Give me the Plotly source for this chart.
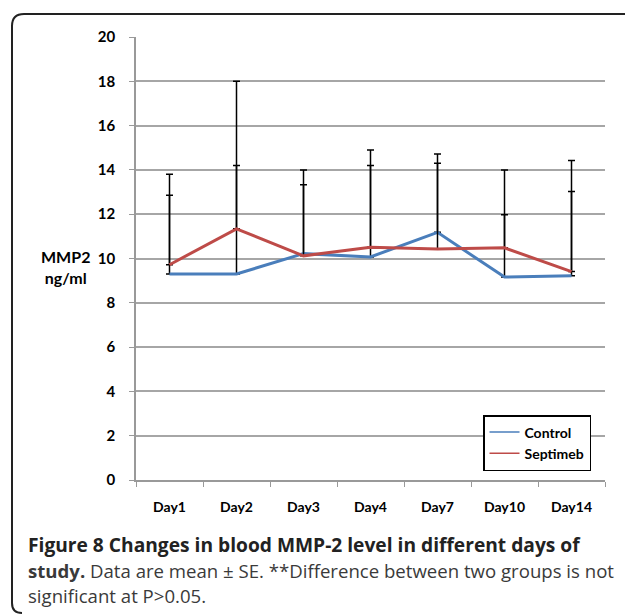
import plotly.graph_objects as go

days = ["Day1", "Day2", "Day3", "Day4", "Day7", "Day10", "Day14"]
control = [9.3, 9.3, 10.22, 10.07, 11.18, 9.16, 9.22]
control_se = [4.5, 8.7, 3.78, 4.83, 3.54, 4.84, 5.2]
septimeb = [9.72, 11.34, 10.12, 10.51, 10.43, 10.48, 9.41]
septimeb_se = [3.13, 2.86, 3.21, 3.69, 3.87, 1.49, 3.62]
y_ticks = list(range(0, 21, 2))

W, H = 625, 616
L, R, T, B = 136, 20, 37, 136
pw, ph = W - L - R, H - T - B

def px(x):
    return (x - L) / pw

def py(y):
    return (H - B - y) / ph

BLUE, RED = "#4a7ebb", "#be4b48"

fig = go.Figure()
for name, vals, se, col in [("Control", control, control_se, BLUE),
                            ("Septimeb", septimeb, septimeb_se, RED)]:
    fig.add_trace(go.Scatter(
        x=days, y=vals, name=name, mode="lines", showlegend=False,
        line=dict(color=col, width=3),
        error_y=dict(type="data", array=se, symmetric=False,
                     arrayminus=[0] * len(days), color="black", thickness=1.5, width=3.5),
    ))
# legend entries with thin lines (as in the reference legend)
for name, col in [("Control", BLUE), ("Septimeb", RED)]:
    fig.add_trace(go.Scatter(x=[None], y=[None], name=name, mode="lines",
                             line=dict(color=col, width=1.5), hoverinfo="skip"))

font_bold = "Lato"
fig.update_layout(
    width=W, height=H,
    margin=dict(l=L, r=R, t=T, b=B),
    paper_bgcolor="white", plot_bgcolor="white",
    font=dict(family=font_bold, color="black"),
    showlegend=True,
    legend=dict(
        x=px(483), y=py(415), xanchor="left", yanchor="top",
        bgcolor="white", bordercolor="black", borderwidth=1.5,
        font=dict(family=font_bold, size=14, color="black", weight="bold"),
        tracegroupgap=0, itemwidth=30,
    ),
    xaxis=dict(
        type="category", showgrid=False, showline=True, linecolor="#999999", linewidth=1.5,
        ticks="outside", tickson="boundaries", ticklen=5, tickcolor="#999999",
        ticklabelstandoff=13,
        tickfont=dict(family=font_bold, size=14, weight="bold"),
        range=[-0.5, 6.5],
    ),
    yaxis=dict(
        range=[0, 20], tickvals=y_ticks, showgrid=True, gridcolor="#a6a6a6", gridwidth=1.5,
        showline=True, linecolor="#999999", linewidth=1.5,
        ticks="outside", ticklen=5, tickcolor="#999999",
        ticklabelstandoff=11, zeroline=False,
        tickfont=dict(family=font_bold, size=15, weight="bold"),
    ),
)

fig.add_annotation(
    xref="paper", yref="paper", x=px(65), y=py(267), xanchor="center", yanchor="middle",
    text="<b>MMP2<br>ng/ml</b>", showarrow=False, align="center",
    font=dict(family=font_bold, size=16, color="black"),
)

cap_font = "Open Sans"
fig.add_annotation(
    xref="paper", yref="paper", x=px(26), y=py(544), xanchor="left", yanchor="middle",
    text="<b>Figure 8 Changes in blood MMP-2 level in different days of</b>",
    showarrow=False, font=dict(family=cap_font, size=19.2, color="#222222"),
)
fig.add_annotation(
    xref="paper", yref="paper", x=px(26), y=py(570), xanchor="left", yanchor="middle",
    text="<b>study.</b> Data are mean ± SE. **Difference between two groups is not",
    showarrow=False, font=dict(family=cap_font, size=18.6, color="#3a3a3a"),
)
fig.add_annotation(
    xref="paper", yref="paper", x=px(26), y=py(595), xanchor="left", yanchor="middle",
    text="significant at P>0.05.",
    showarrow=False, font=dict(family=cap_font, size=18.6, color="#3a3a3a"),
)

# outer rounded frame
r = 12
path = (f"M {px(22)},{py(613)} Q {px(12)},{py(613)} {px(12)},{py(603)} "
        f"L {px(12)},{py(14 + r)} "
        f"Q {px(12)},{py(14)} {px(12 + r)},{py(14)} L {px(640)},{py(14)}")
fig.add_shape(type="path", xref="paper", yref="paper", path=path,
              line=dict(color="#222222", width=2))

fig.write_html(
    "out.html",
    config={"displayModeBar": False},
    post_script="document.body.style.margin='0';document.body.style.overflow='hidden';",
)
